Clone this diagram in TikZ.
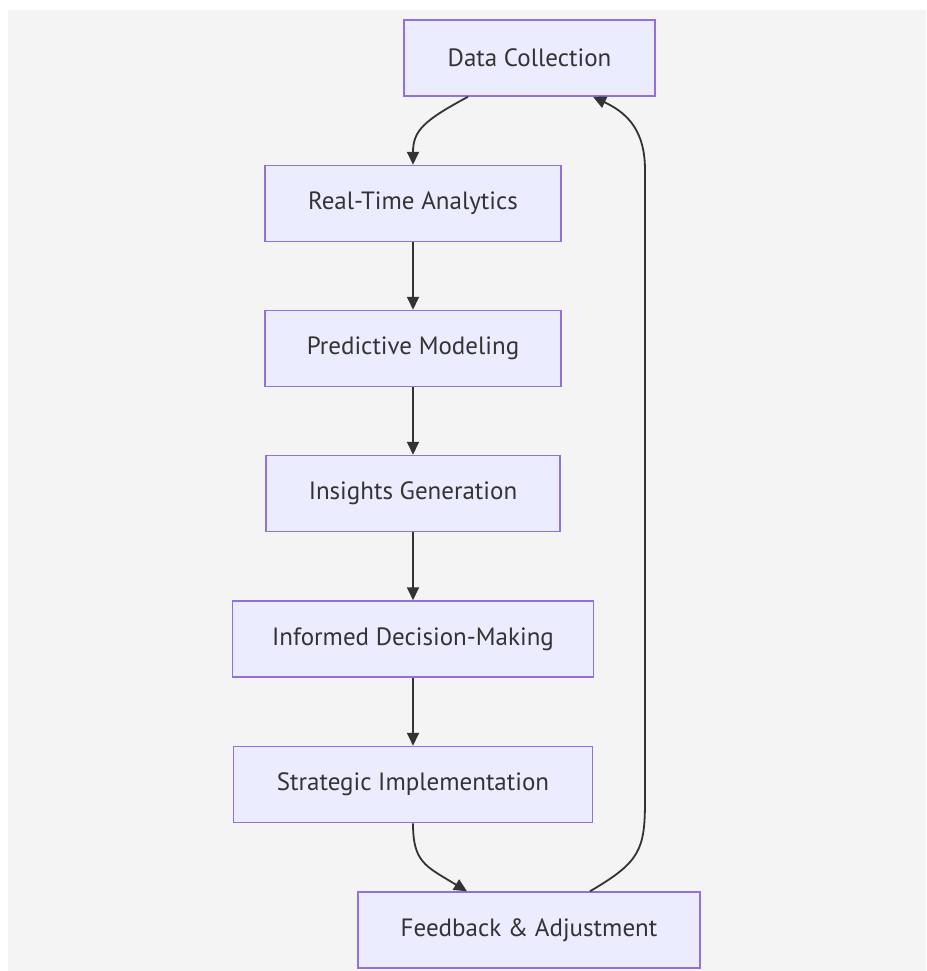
\documentclass[tikz,border=0pt]{standalone}
\usepackage{fontspec}
\setmainfont{PT Sans}
\usetikzlibrary{arrows.meta,positioning,calc}
\definecolor{bg}{HTML}{F4F4F4}
\definecolor{nodefill}{HTML}{ECECFF}
\definecolor{nodeline}{HTML}{9370DB}
\definecolor{edge}{HTML}{333333}
\begin{document}
\begin{tikzpicture}[x=1pt,y=-1pt,
  box/.style={draw=nodeline,fill=nodefill,line width=1.5pt,minimum height=76pt,inner sep=0pt,
    font=\fontsize{25}{30}\selectfont,text=edge},
  link/.style={draw=edge,line width=1.8pt,-{Triangle[length=13pt,width=12pt]}}]
\useasboundingbox[fill=white] (0,0) rectangle (926,971);
\fill[bg] (8,10) rectangle (926,971);
\node[box,minimum width=251pt] (dc) at (529.5,58) {Data Collection};
\node[box,minimum width=296pt] (rta) at (413,203.5) {Real-Time Analytics};
\node[box,minimum width=296pt] (pm) at (413,348.5) {Predictive Modeling};
\node[box,minimum width=294pt] (ig) at (413,493.5) {Insights Generation};
\node[box,minimum width=361pt] (idm) at (413,639) {Informed Decision-Making};
\node[box,minimum width=359pt] (si) at (413,784.5) {Strategic Implementation};
\node[box,minimum width=342pt] (fa) at (529,930) {Feedback \& Adjustment};
\draw[link] ([xshift=-61.5pt]dc.south) .. controls (425,120) and (413,130) .. (rta.north);
\draw[link] (rta) -- (pm);
\draw[link] (pm) -- (ig);
\draw[link] (ig) -- (idm);
\draw[link] (idm) -- (si);
\draw[link] (si.south) .. controls (413,862) and (425,866) .. ([xshift=-62pt]fa.north);
\draw[link] ([xshift=61pt]fa.north) .. controls (640,862) and (645,850) .. (645,800) -- (645,170) .. controls (645,128) and (625,112) .. ([xshift=63.5pt]dc.south);
\end{tikzpicture}
\end{document}
